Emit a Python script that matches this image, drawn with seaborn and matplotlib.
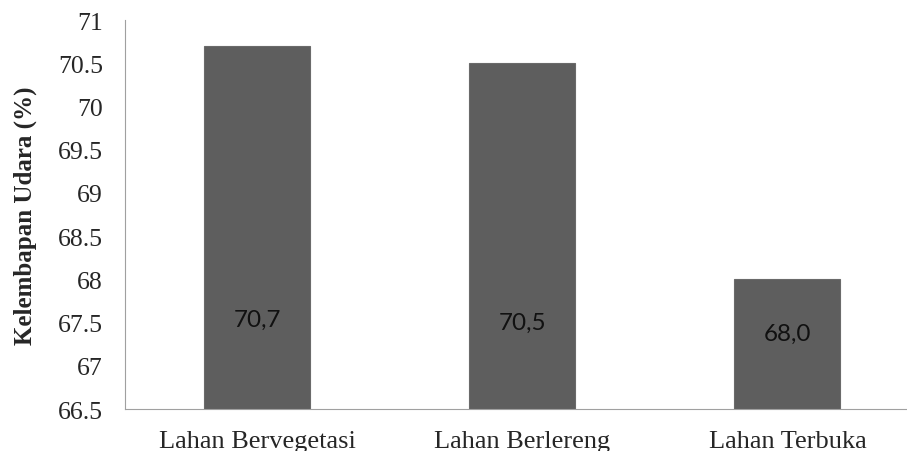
import pandas as pd
import matplotlib
matplotlib.use("Agg")
import matplotlib.pyplot as plt
import seaborn as sns

# Data
lahan = ["Lahan Bervegetasi", "Lahan Berlereng", "Lahan Terbuka"]
kelembapan = [70.7, 70.5, 68.0]
label_text = ["70,7", "70,5", "68,0"]

df = pd.DataFrame({"Lahan": lahan, "Kelembapan": kelembapan})

sns.set_style("white")
plt.rcParams["font.family"] = ["Liberation Serif", "DejaVu Serif"]

fig = plt.figure(figsize=(9.07, 4.52), dpi=100)
ax = fig.add_axes([0.1378, 0.0929, 0.8765, 0.8606])

sns.barplot(data=df, x="Lahan", y="Kelembapan", color="#5e5e5e",
            width=0.4, saturation=1, ax=ax, edgecolor="#6a6a6a", linewidth=0.8)

ax.set_ylim(66.5, 71)
ax.set_xlim(-0.5, 2.5)
ax.set_yticks([66.5 + 0.5 * i for i in range(10)])
ax.set_yticklabels([f"{66.5 + 0.5 * i:g}" for i in range(10)], fontsize=18.5)
ax.tick_params(axis="y", length=0, pad=16)
ax.tick_params(axis="x", length=0, pad=15, labelsize=19)

ax.set_xlabel("")
ax.set_ylabel("Kelembapan Udara (%)", fontsize=18, fontweight="bold", labelpad=15)

# value labels inside the bars
label_y = [67.54, 67.5, 67.37]
for i, (t, y) in enumerate(zip(label_text, label_y)):
    ax.text(i, y, t, ha="center", va="center", fontsize=17.5,
            family=["Lato", "DejaVu Sans"], color="#111111")

for s in ["top", "right"]:
    ax.spines[s].set_visible(False)
ax.spines["left"].set_color("#a0a0a0")
ax.spines["bottom"].set_color("#a0a0a0")

fig.savefig("out.png", dpi=100)
